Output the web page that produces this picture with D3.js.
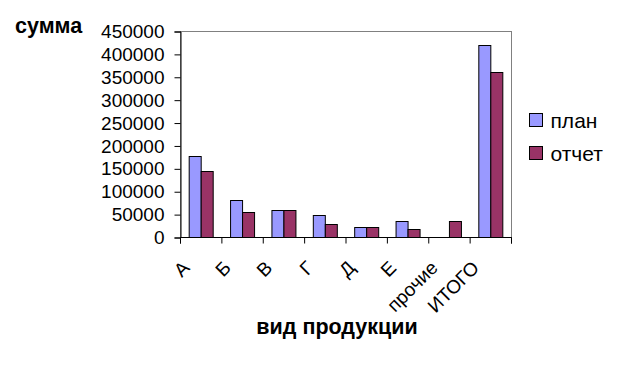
<!DOCTYPE html>
<html>
<head>
<meta charset="utf-8">
<script src="https://cdn.jsdelivr.net/npm/d3@7"></script>
<style>
  body { margin: 0; background: #fff; }
  svg { display: block; font-family: Arial, "Liberation Sans", sans-serif; }
</style>
</head>
<body>
<div id="chart"></div>
<script>
const categories = ["А", "Б", "В", "Г", "Д", "Е", "прочие", "ИТОГО"];
const seriesNames = ["план", "отчет"];
const planValues = [176000, 80000, 58000, 47000, 21000, 34000, 0, 420000];
const otchetValues = [145000, 54000, 58000, 28000, 21000, 17000, 34000, 360000];
const yTicks = [0, 50000, 100000, 150000, 200000, 250000, 300000, 350000, 400000, 450000];
const colors = ["#9999ff", "#993366"];

const width = 624, height = 374;
const plot = { left: 180, top: 31, right: 511, bottom: 237 };

const svg = d3.select("#chart").append("svg")
  .attr("width", width).attr("height", height);

const x = d3.scaleBand().domain(categories).range([plot.left, plot.right]).paddingInner(0).paddingOuter(0);
const y = d3.scaleLinear().domain([0, 450000]).range([plot.bottom, plot.top]);
const barW = 12;

// plot area frame (grey)
svg.append("rect")
  .attr("x", plot.left + 0.5).attr("y", plot.top + 0.5)
  .attr("width", plot.right - plot.left).attr("height", plot.bottom - plot.top)
  .attr("fill", "none").attr("stroke", "#808080");

const table = categories.map((c, i) => ({ cat: c, vals: [planValues[i], otchetValues[i]] }));

const groups = svg.append("g").selectAll("g").data(table).enter().append("g");
groups.selectAll("rect")
  .data(d => d.vals.map((v, j) => ({ cat: d.cat, v, j })))
  .enter().append("rect")
  .filter(d => d.v > 0)
  .attr("x", d => x(d.cat) + x.bandwidth() / 2 - barW + d.j * barW + 0.5)
  .attr("y", d => Math.round(y(d.v)) + 0.5)
  .attr("width", barW)
  .attr("height", d => Math.round(y(0)) - Math.round(y(d.v)))
  .attr("fill", d => colors[d.j])
  .attr("stroke", "#000").attr("stroke-width", 1);

// y axis
const yAxis = d3.axisLeft(y).tickValues(yTicks).tickSize(6).tickPadding(10).tickFormat(d3.format("d"));
svg.append("g")
  .attr("transform", `translate(${plot.left + 0.5},0.5)`)
  .call(yAxis)
  .call(g => g.selectAll("text").attr("font-size", 19).attr("fill", "#000").attr("font-family", "Arial, 'Liberation Sans', sans-serif"))
  .call(g => g.selectAll("line,path").attr("stroke", "#000"));

// x axis
const xAxis = d3.axisBottom(x).tickSize(6).tickFormat("");
const xg = svg.append("g")
  .attr("transform", `translate(0.5,${plot.bottom + 0.5})`)
  .call(xAxis);
xg.select(".domain").attr("d", `M${plot.left},6V0H${plot.right}V6`).attr("stroke", "#000");
xg.selectAll(".tick").remove();
const edges = categories.map(c => x(c)).concat([plot.right]);
xg.selectAll("line.edge").data(edges).enter().append("line")
  .attr("class", "edge")
  .attr("x1", d => d).attr("x2", d => d).attr("y1", 0).attr("y2", 6)
  .attr("stroke", "#000");

// category labels rotated
svg.append("g").selectAll("text").data(categories).enter().append("text")
  .attr("transform", d => `translate(${x(d) + x.bandwidth() / 2 - 10},269) rotate(-45)`)
  .attr("text-anchor", "end")
  .attr("font-size", 19)
  .text(d => d);

// axis titles
svg.append("text").attr("x", 15).attr("y", 33)
  .attr("font-size", 21.5).attr("font-weight", "bold").text("сумма");
svg.append("text").attr("x", 337).attr("y", 334).attr("text-anchor", "middle")
  .attr("font-size", 21.5).attr("font-weight", "bold").text("вид продукции");

// legend
const legend = svg.append("g").selectAll("g").data(seriesNames).enter().append("g")
  .attr("transform", (d, i) => `translate(529.5,${113.5 + i * 33})`);
legend.append("rect").attr("width", 13).attr("height", 13)
  .attr("fill", (d, i) => colors[i]).attr("stroke", "#000");
legend.append("text").attr("x", 21).attr("y", 14)
  .attr("font-size", 21).text(d => d);
</script>
</body>
</html>
